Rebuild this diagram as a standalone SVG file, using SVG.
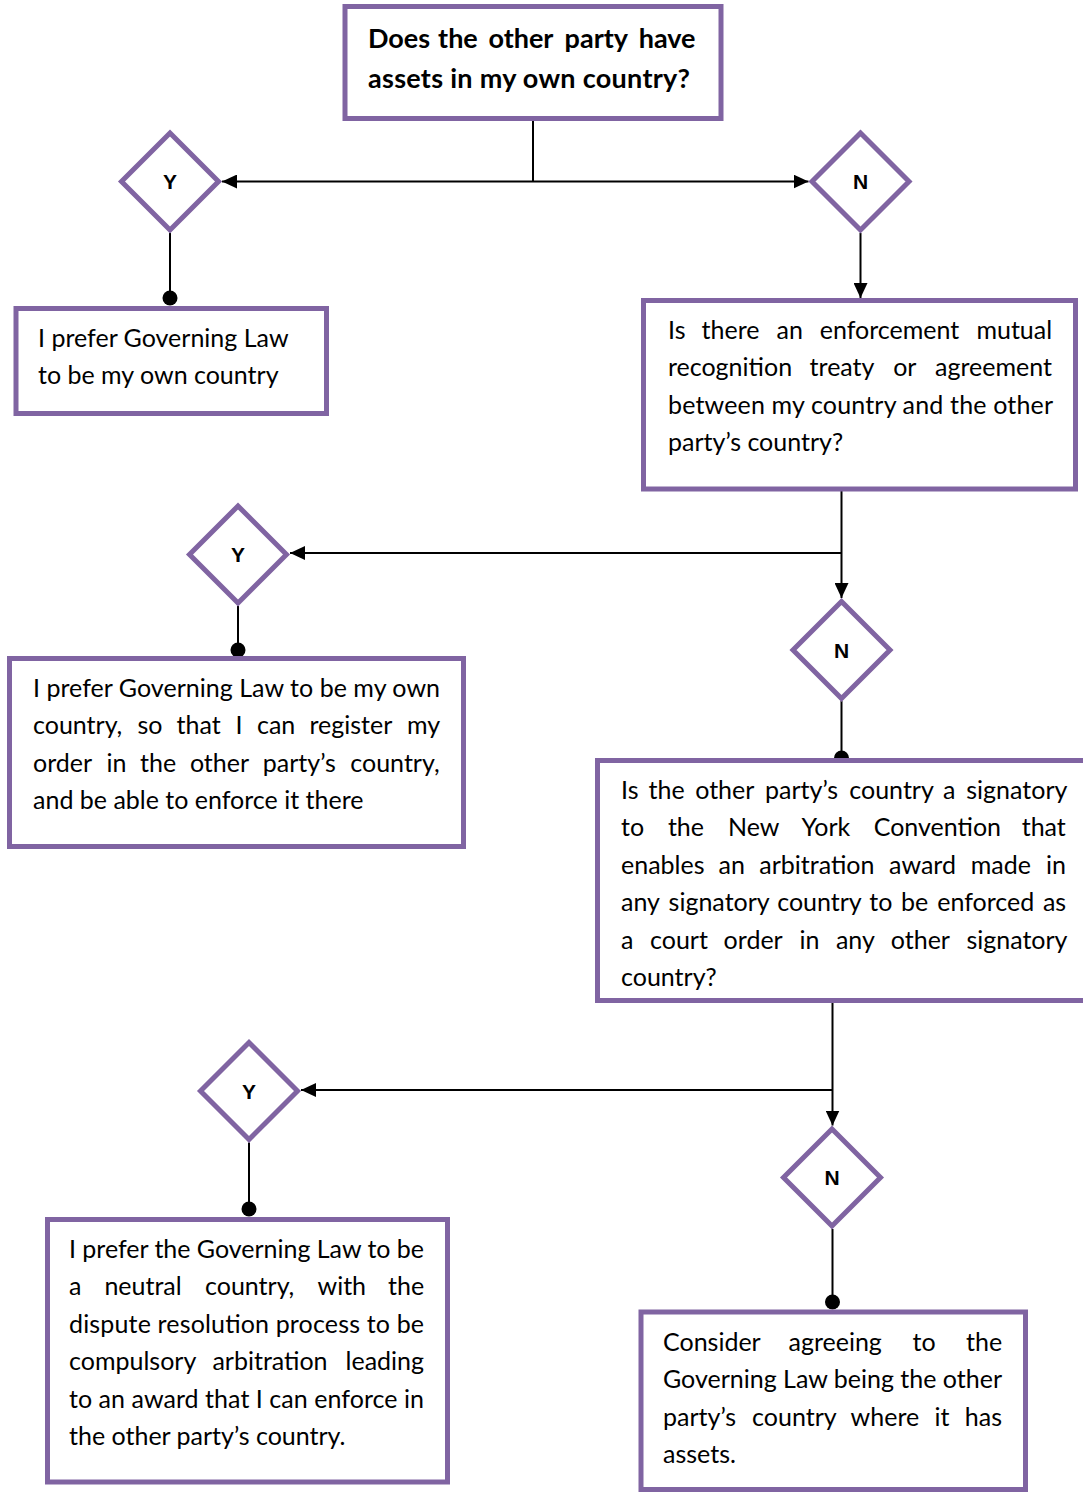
<svg xmlns="http://www.w3.org/2000/svg" width="1083" height="1494" viewBox="0 0 1083 1494">
<style>
.box{fill:#fff;stroke:#8064A2;stroke-width:5}
.dia{fill:#fff;stroke:#8064A2;stroke-width:5;stroke-linejoin:miter}
.t{font-family:Lato,"Open Sans",sans-serif;font-size:25px;fill:#000}
.tb{font-family:Lato,"Open Sans",sans-serif;font-weight:700;font-size:27px;fill:#000}
.lbl{font-family:"Liberation Sans",Arial,sans-serif;font-weight:700;font-size:21px;text-anchor:middle;fill:#000}
.con{stroke:#000;stroke-width:2;fill:none}
.dot{fill:#000}
</style>
<defs>
<marker id="arrow" markerUnits="userSpaceOnUse" markerWidth="15" markerHeight="14" refX="15" refY="7" orient="auto">
<path d="M0,0 L15,7 L0,14 Z" fill="#000"/>
</marker>
</defs>
<rect width="1083" height="1494" fill="#fff"/>
<g id="connectors">
<path class="con" d="M533,120 V181.5"/>
<path class="con" d="M533,181.5 H222" marker-end="url(#arrow)"/>
<path class="con" d="M533,181.5 H808.5" marker-end="url(#arrow)"/>
<path class="con" d="M170,233 V298"/>
<circle class="dot" cx="170" cy="298" r="7.5"/>
<path class="con" d="M860.5,233 V298" marker-end="url(#arrow)"/>
<path class="con" d="M841.5,489 V598" marker-end="url(#arrow)"/>
<path class="con" d="M841.5,553 H290" marker-end="url(#arrow)"/>
<path class="con" d="M238,606 V650"/>
<circle class="dot" cx="238" cy="650" r="7.5"/>
<path class="con" d="M841.5,701 V758"/>
<circle class="dot" cx="841.5" cy="758" r="7.5"/>
<path class="con" d="M832.5,1000 V1125.5" marker-end="url(#arrow)"/>
<path class="con" d="M832.5,1090 H301" marker-end="url(#arrow)"/>
<path class="con" d="M249,1142.5 V1209"/>
<circle class="dot" cx="249" cy="1209" r="7.5"/>
<path class="con" d="M832.5,1229 V1302"/>
<circle class="dot" cx="832.5" cy="1302" r="7.5"/>
</g>
<g id="q1">
<rect class="box" x="345" y="6.5" width="376" height="112"/>
<text class="tb" y="47.5"><tspan x="368">Does</tspan><tspan x="438.1">the</tspan><tspan x="488.4">other</tspan><tspan x="564.6">party</tspan><tspan x="638.7">have</tspan></text>
<text class="tb" x="368" y="88" textLength="322">assets in my own country?</text>
</g>
<g id="y1">
<path class="dia" d="M170,133 L218.5,181.5 L170,230 L121.5,181.5 Z"/>
<text class="lbl" x="170" y="189">Y</text>
</g>
<g id="n1">
<path class="dia" d="M860.5,133 L909,181.5 L860.5,230 L812,181.5 Z"/>
<text class="lbl" x="860.5" y="189">N</text>
</g>
<g id="a1">
<rect class="box" x="16" y="308.5" width="310.5" height="105"/>
<text class="t" x="38" y="347">I prefer Governing Law</text>
<text class="t" x="38" y="384">to be my own country</text>
</g>
<g id="q2">
<rect class="box" x="643.5" y="300.5" width="432" height="188.5"/>
<text class="t" y="339"><tspan x="668">Is</tspan><tspan x="701.6">there</tspan><tspan x="776.6">an</tspan><tspan x="819.8">enforcement</tspan><tspan x="976.4">mutual</tspan></text>
<text class="t" y="376"><tspan x="668">recognition</tspan><tspan x="809.6">treaty</tspan><tspan x="893.2">or</tspan><tspan x="935.1">agreement</tspan></text>
<text class="t" x="668" y="414" textLength="385">between my country and the other</text>
<text class="t" x="668" y="451">party’s country?</text>
</g>
<g id="y2">
<path class="dia" d="M238,506 L286.5,554.5 L238,603 L189.5,554.5 Z"/>
<text class="lbl" x="238" y="562">Y</text>
</g>
<g id="n2">
<path class="dia" d="M841.5,601.5 L890,650 L841.5,698.5 L793,650 Z"/>
<text class="lbl" x="841.5" y="657.5">N</text>
</g>
<g id="a2">
<rect class="box" x="9.5" y="658.5" width="454" height="188"/>
<text class="t" x="33" y="697" textLength="407">I prefer Governing Law to be my own</text>
<text class="t" y="734"><tspan x="33">country,</tspan><tspan x="137.5">so</tspan><tspan x="176.5">that</tspan><tspan x="235.6">I</tspan><tspan x="257">can</tspan><tspan x="309.5">register</tspan><tspan x="406.9">my</tspan></text>
<text class="t" y="772"><tspan x="33">order</tspan><tspan x="106.4">in</tspan><tspan x="140.1">the</tspan><tspan x="189.9">other</tspan><tspan x="262.8">party’s</tspan><tspan x="350.3">country,</tspan></text>
<text class="t" x="33" y="809">and be able to enforce it there</text>
</g>
<g id="q3">
<rect class="box" x="597.5" y="760.5" width="500" height="240"/>
<text class="t" y="799"><tspan x="621">Is</tspan><tspan x="648.6">the</tspan><tspan x="695.2">other</tspan><tspan x="765">party’s</tspan><tspan x="849.3">country</tspan><tspan x="943">a</tspan><tspan x="966.3">signatory</tspan></text>
<text class="t" y="836"><tspan x="621">to</tspan><tspan x="667.9">the</tspan><tspan x="728">New</tspan><tspan x="801.4">York</tspan><tspan x="873.7">Convention</tspan><tspan x="1021.7">that</tspan></text>
<text class="t" y="874"><tspan x="621">enables</tspan><tspan x="718.5">an</tspan><tspan x="759.3">arbitration</tspan><tspan x="889.1">award</tspan><tspan x="970.8">made</tspan><tspan x="1046">in</tspan></text>
<text class="t" y="911"><tspan x="621">any</tspan><tspan x="668.6">signatory</tspan><tspan x="777.2">country</tspan><tspan x="869.3">to</tspan><tspan x="901.1">be</tspan><tspan x="937.2">enforced</tspan><tspan x="1042.9">as</tspan></text>
<text class="t" y="949"><tspan x="621">a</tspan><tspan x="650">court</tspan><tspan x="723.6">order</tspan><tspan x="799.5">in</tspan><tspan x="835.9">any</tspan><tspan x="890.8">other</tspan><tspan x="966.4">signatory</tspan></text>
<text class="t" x="621" y="986">country?</text>
</g>
<g id="y3">
<path class="dia" d="M249,1042.5 L297.5,1091 L249,1139.5 L200.5,1091 Z"/>
<text class="lbl" x="249" y="1098.5">Y</text>
</g>
<g id="n3">
<path class="dia" d="M832,1129 L880.5,1177.5 L832,1226 L783.5,1177.5 Z"/>
<text class="lbl" x="832" y="1185">N</text>
</g>
<g id="a3">
<rect class="box" x="47.5" y="1219.5" width="400" height="262.5"/>
<text class="t" x="69" y="1258" textLength="355">I prefer the Governing Law to be</text>
<text class="t" y="1295"><tspan x="69">a</tspan><tspan x="104.4">neutral</tspan><tspan x="205">country,</tspan><tspan x="317.5">with</tspan><tspan x="388">the</tspan></text>
<text class="t" x="69" y="1333" textLength="355">dispute resolution process to be</text>
<text class="t" y="1370"><tspan x="69">compulsory</tspan><tspan x="212.4">arbitration</tspan><tspan x="345.6">leading</tspan></text>
<text class="t" x="69" y="1408" textLength="355">to an award that I can enforce in</text>
<text class="t" x="69" y="1445">the other party’s country.</text>
</g>
<g id="a4">
<rect class="box" x="641" y="1312" width="384.5" height="177.5"/>
<text class="t" y="1351"><tspan x="663">Consider</tspan><tspan x="788.5">agreeing</tspan><tspan x="912.5">to</tspan><tspan x="966">the</tspan></text>
<text class="t" x="663" y="1388" textLength="339">Governing Law being the other</text>
<text class="t" y="1426"><tspan x="663">party’s</tspan><tspan x="752.1">country</tspan><tspan x="850.6">where</tspan><tspan x="934.5">it</tspan><tspan x="964.8">has</tspan></text>
<text class="t" x="663" y="1463">assets.</text>
</g>
</svg>
